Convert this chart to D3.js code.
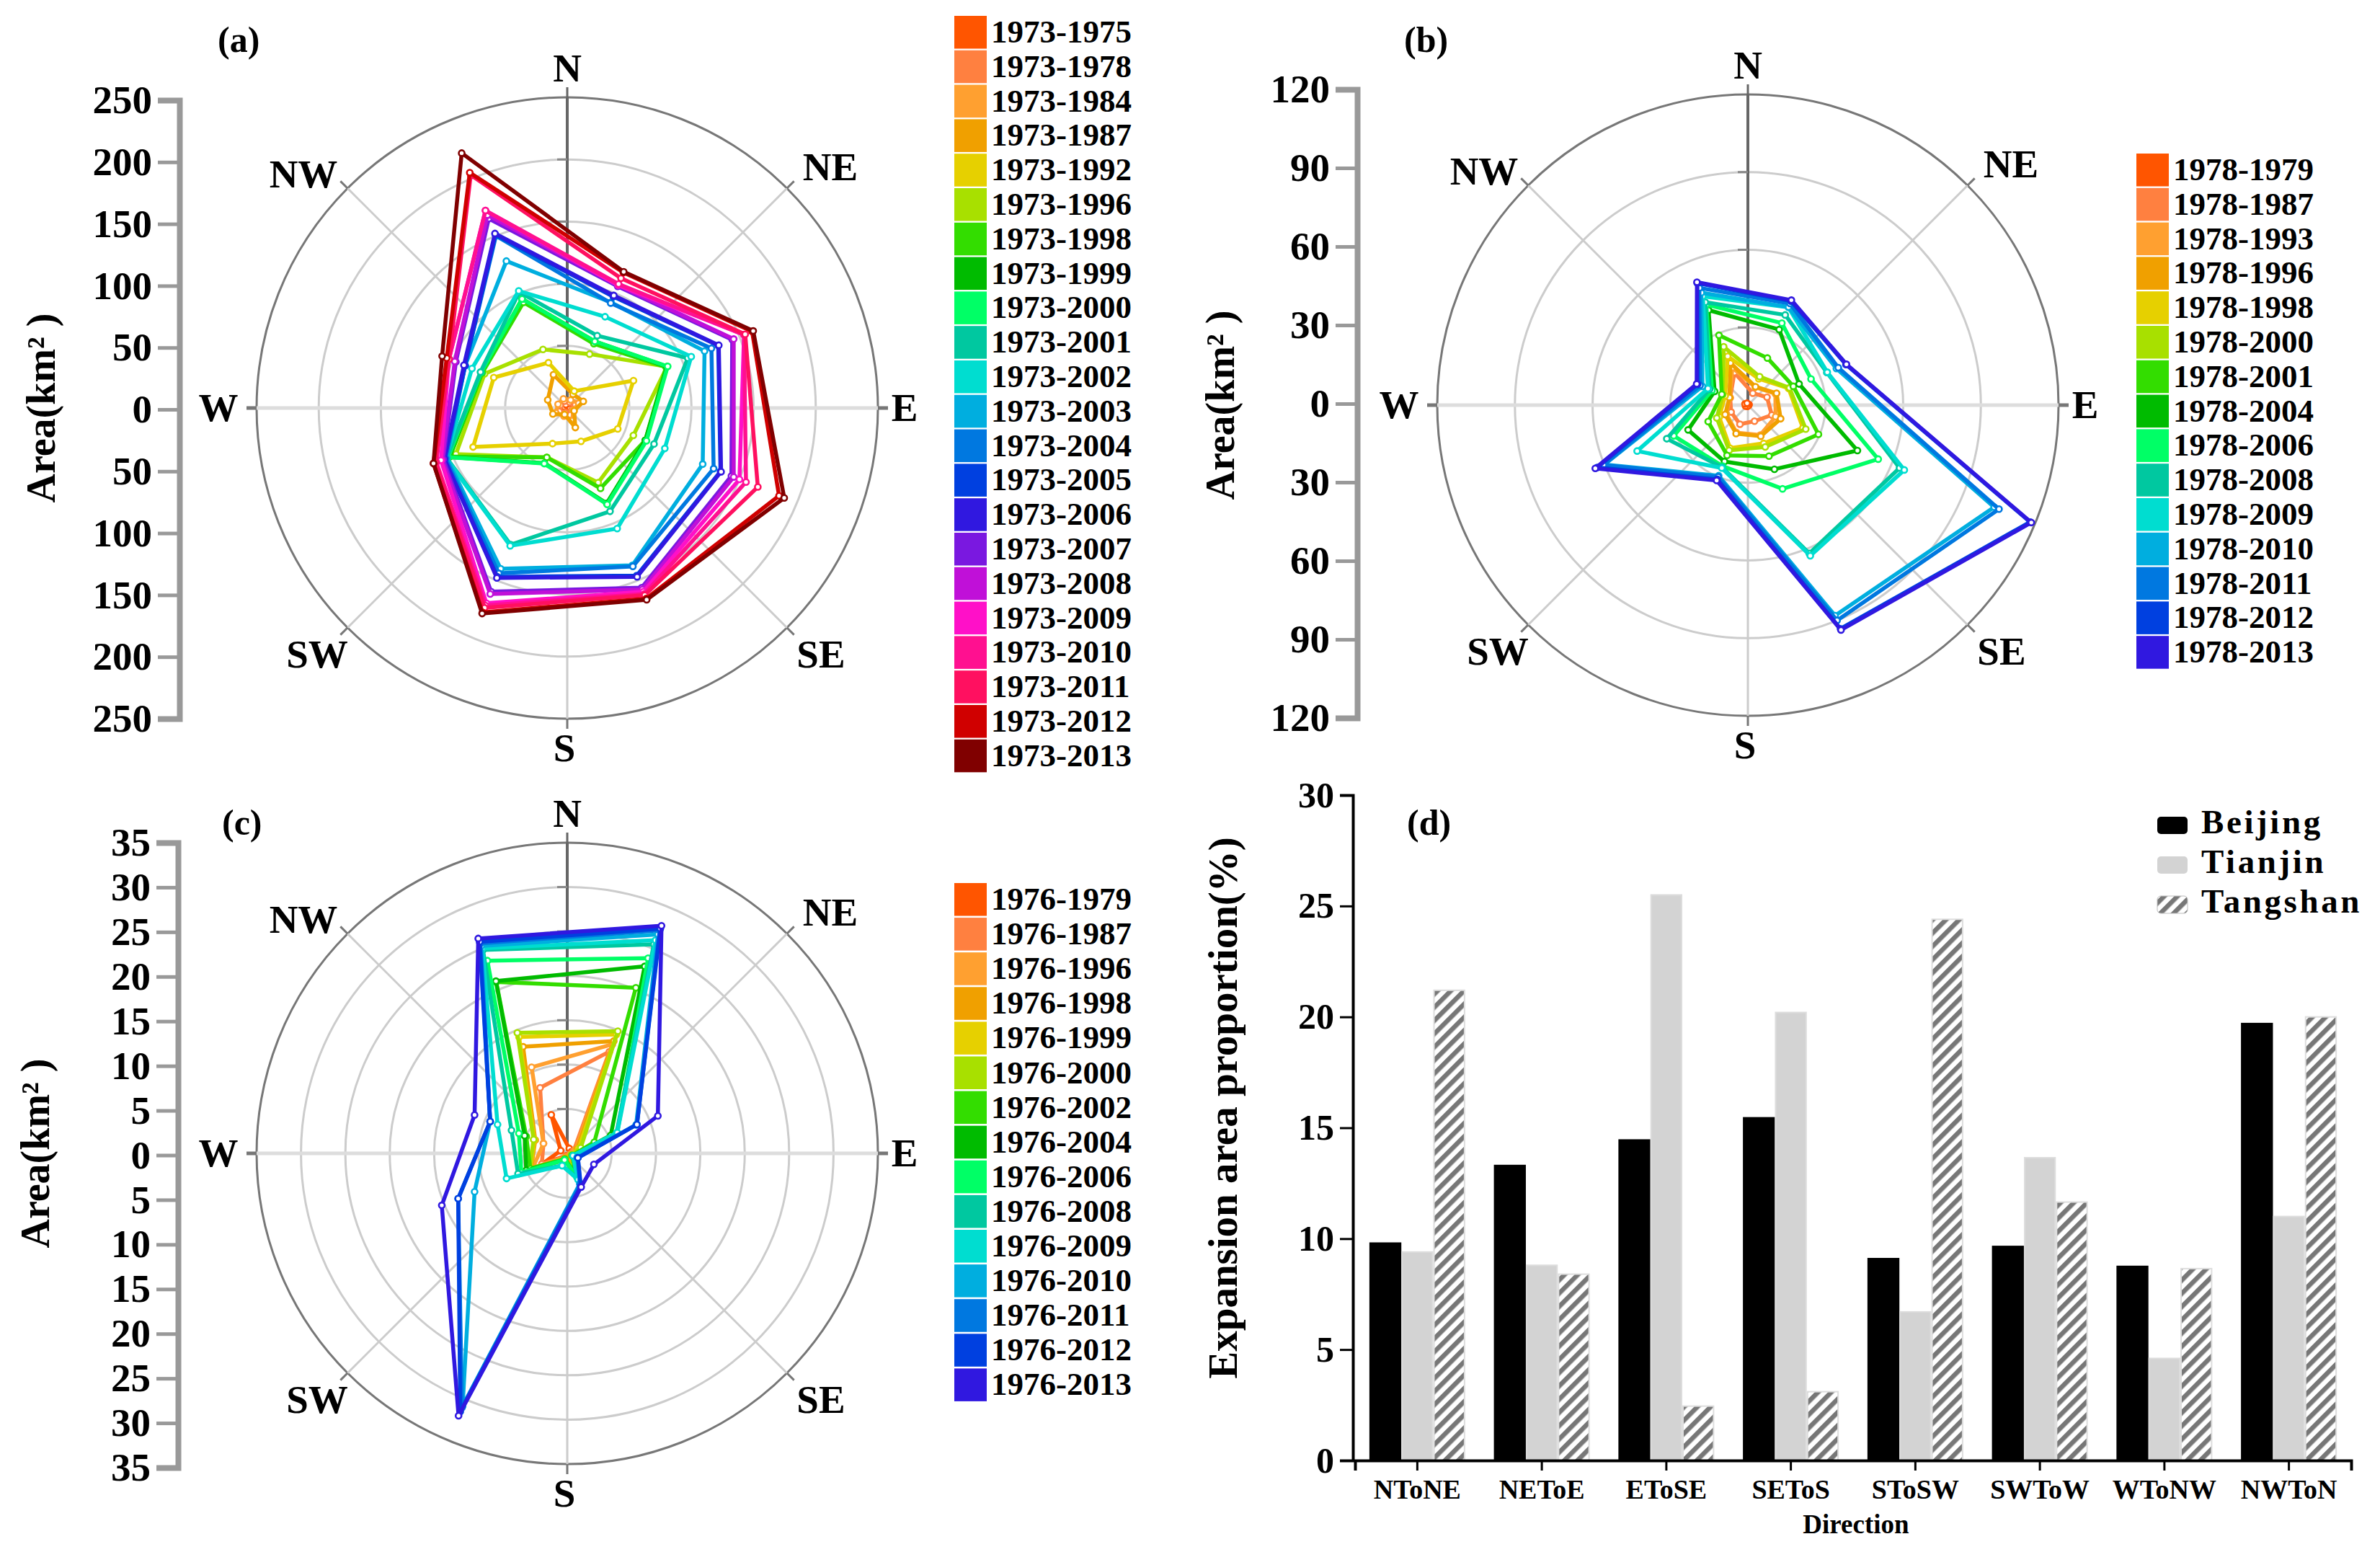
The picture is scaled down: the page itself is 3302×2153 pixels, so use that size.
<!DOCTYPE html>
<html>
<head>
<meta charset="utf-8">
<script src="https://cdn.jsdelivr.net/npm/d3@7"></script>
<style>
  body { margin: 0; background: #fff; }
  text { font-family: "Liberation Serif", serif; font-weight: bold; fill: #000; }
</style>
</head>
<body>
<svg id="chart" width="3302" height="2153"></svg>
<script>
// vertices sit midway between compass spokes: NtoNE, NEtoE ... NWtoN
const compass = ['N', 'NE', 'E', 'SE', 'S', 'SW', 'W', 'NW']

const periodsA = ['1973-1975', '1973-1978', '1973-1984', '1973-1987', '1973-1992', '1973-1996', '1973-1998', '1973-1999', '1973-2000', '1973-2001', '1973-2002', '1973-2003', '1973-2004', '1973-2005', '1973-2006', '1973-2007', '1973-2008', '1973-2009', '1973-2010', '1973-2011', '1973-2012', '1973-2013']
const valuesA = [
  [2, 3, 2, 4, 3, 5, 3, 3],
  [5, 7, 4, 6, 4, 7, 6, 6],
  [7, 10, 5, 11, 7, 10, 8, 8],
  [12, 14, 6, 17, 5.6, 12.5, 17, 29],
  [14.7, 57.7, 44, 29, 31, 82, 64, 39.5],
  [47, 87, 57.6, 65, 43, 97, 72, 51],
  [56, 86, 68, 70, 43, 102, 74, 92],
  [58, 87, 68, 83, 48, 103, 75, 95],
  [58, 87.5, 69, 84, 48.4, 103.6, 75, 95],
  [63, 105, 75.6, 90, 119, 105, 75.6, 101],
  [79.5, 108, 85, 105, 120, 105.6, 83, 102],
  [92, 119.6, 118, 137, 140, 105, 89, 128],
  [91.4, 125.6, 127.5, 138, 144, 106, 89, 150],
  [97, 131.5, 133.5, 146, 147, 107, 89, 151],
  [98, 132, 134, 147, 148, 107, 90, 152],
  [106, 143.7, 143, 156.5, 160, 108, 97, 165],
  [107, 145, 145, 158, 162, 109, 98, 168],
  [107, 154, 150, 160, 170, 110, 103, 172],
  [108, 154, 155.7, 162, 172, 114, 103, 172],
  [113, 155, 166, 163, 174, 115, 103, 203],
  [118, 161, 184.5, 166, 178, 116.5, 105, 205],
  [118.7, 162, 189, 167, 179, 116.5, 109, 222]
]
const ticksA = [250, 200, 150, 100, 50, 0, -50, -100, -150, -200, -250]
const ringsA = [50, 100, 150, 200, 250]

const periodsB = ['1978-1979', '1978-1987', '1978-1993', '1978-1996', '1978-1998', '1978-2000', '1978-2001', '1978-2004', '1978-2006', '1978-2008', '1978-2009', '1978-2010', '1978-2011', '1978-2012', '1978-2013']
const valuesB = [
  [0.3, 0.5, 0.3, 0.2, 0.5, 1, 1.2, 0.8],
  [5, 8, 10, 6.7, 8, 7, 7.4, 13.6],
  [7.5, 11.5, 11.6, 12.5, 11.5, 9, 7.5, 15.7],
  [7.7, 12, 13.7, 13, 11.9, 9.5, 7.7, 17.6],
  [11, 17, 23, 16, 18, 12, 9.5, 20.4],
  [11.9, 17.4, 24.2, 17.5, 18.9, 13, 10.5, 24.4],
  [19.7, 19, 29.5, 21.3, 21, 16.6, 10.9, 29.2],
  [31.6, 21.4, 45.8, 26.8, 23.6, 25, 13.9, 39.7],
  [34.3, 26.4, 54.5, 35, 25.5, 31, 15, 42],
  [37.7, 33, 63.4, 62, 26, 33.9, 16, 43],
  [40.9, 33.2, 65.4, 63, 26.3, 46.3, 16.7, 45.5],
  [41, 37, 103, 88, 29.5, 60, 19, 47],
  [42.5, 37.8, 105, 90, 30, 60.4, 20, 49],
  [43.5, 41, 118, 93.5, 31, 63, 21, 51],
  [43.9, 41.2, 118.5, 94, 31.5, 63.8, 21.4, 51.4]
]
const ticksB = [120, 90, 60, 30, 0, -30, -60, -90, -120]
const ringsB = [30, 60, 90, 120]

const periodsC = ['1976-1979', '1976-1987', '1976-1996', '1976-1998', '1976-1999', '1976-2000', '1976-2002', '1976-2004', '1976-2006', '1976-2008', '1976-2009', '1976-2010', '1976-2011', '1976-2012', '1976-2013']
const valuesC = [
  [0.6, 0.5, 0.4, 1.2, 0.3, 3, 0.8, 4.7],
  [12.4, 0.8, 0.3, 1.4, 0.4, 3.1, 2.9, 8],
  [13.3, 1, 0.4, 1.8, 0.5, 4.2, 2.9, 10.5],
  [13.7, 1.2, 0.5, 2, 0.6, 4.4, 3.9, 13],
  [14.5, 1.4, 0.5, 2.2, 0.7, 4.5, 4, 14.2],
  [14.9, 1.65, 0.5, 2.3, 0.7, 4.6, 4.1, 14.7],
  [20.2, 3.3, 0.6, 2.6, 0.7, 4.5, 5, 20.9],
  [22.8, 5.3, 0.7, 2.8, 0.8, 5, 5.2, 21],
  [23.8, 6.1, 0.7, 2.9, 0.8, 5.6, 5.9, 23.5],
  [25.5, 6, 0.7, 3, 1.5, 6, 6.8, 24.8],
  [26, 6.1, 0.7, 3.2, 1.5, 7.4, 8.5, 25],
  [26.7, 8.4, 1.2, 3.7, 30.8, 11.3, 9.4, 25.3],
  [27.2, 8.5, 1.3, 3.8, 31, 13.3, 9.4, 25.6],
  [27.4, 8.5, 1.3, 4, 31.5, 13.3, 9.4, 25.8],
  [27.75, 11.05, 3.25, 4.1, 32, 15.3, 11.3, 26.2]
]
const ticksC = [35, 30, 25, 20, 15, 10, 5, 0, -5, -10, -15, -20, -25, -30, -35]
const ringsC = [5, 10, 15, 20, 25, 30, 35]

const periodColors = ['#ff5500', '#ff8040', '#ffa030', '#f0a000', '#e6d000', '#a8e000', '#33dd00', '#00bb00', '#00ff66', '#00c8a0', '#00ddd0', '#00aedf', '#0078e0', '#0040e0', '#3018e0', '#7a18e0', '#c010d8', '#ff10c8', '#ff1090', '#ff1060', '#d00000', '#800000']

const directions = ['NToNE', 'NEToE', 'EToSE', 'SEToS', 'SToSW', 'SWToW', 'WToNW', 'NWToN']
const cities = ['Beijing', 'Tianjin', 'Tangshan']
const beijing = [9.8, 13.3, 14.45, 15.45, 9.1, 9.65, 8.75, 19.7]
const tianjin = [9.4, 8.8, 25.5, 20.2, 6.7, 13.65, 4.6, 11.0]
const tangshan = [21.2, 8.4, 2.45, 3.1, 24.4, 11.65, 8.65, 20]
const ticksD = [0, 5, 10, 15, 20, 25, 30]

const svg = d3.select('#chart')
const radius = 431
const lineGrey = '#999'

// hatch for Tangshan
svg.append('defs').append('pattern')
    .attr('id', 'hatch')
    .attr('width', 13).attr('height', 13)
    .attr('patternUnits', 'userSpaceOnUse')
    .attr('patternTransform', 'rotate(45)')
    .append('rect')
    .attr('width', 6.5).attr('height', 13)
    .attr('fill', '#777')

// label offsets from the polar centre, same order as compass
const compassOffsets = [[0, -471], [365, -334], [468, 0], [352, 342], [-4, 472], [-347, 342], [-484, 0], [-366, -324]]

function drawPolar(opt) {
    const maxVal = opt.rings[opt.rings.length - 1]
    const r = d3.scaleLinear().domain([0, maxVal]).range([0, radius])
    const g = svg.append('g').attr('transform', 'translate(' + opt.cx + ',' + opt.cy + ')')

    // rings
    g.selectAll('.ring')
        .data(opt.rings)
        .enter().append('circle')
        .attr('r', d => r(d))
        .attr('fill', 'none')
        .attr('stroke', d => d === maxVal ? '#777' : '#ccc')
        .attr('stroke-width', 3)

    // spokes, the north half stays darker and the E-W one is thick
    compass.forEach((name, i) => {
        const a = i * Math.PI / 4
        const sx = Math.sin(a), sy = -Math.cos(a)
        g.append('line')
            .attr('x2', sx * radius).attr('y2', sy * radius)
            .attr('stroke', i === 0 ? '#666' : (i % 4 === 2 ? '#ddd' : '#ccc'))
            .attr('stroke-width', i % 4 === 2 ? 5 : (i === 0 ? 4 : 3))
        g.append('line')
            .attr('x1', sx * radius).attr('y1', sy * radius)
            .attr('x2', sx * (radius + 14)).attr('y2', sy * (radius + 14))
            .attr('stroke', i === 0 ? '#666' : '#777')
            .attr('stroke-width', i % 4 === 2 ? 5 : 3)
    })

    // small ticks on the north spoke
    g.selectAll('.ntick')
        .data(opt.rings.slice(0, -1))
        .enter().append('line')
        .attr('x1', -14).attr('x2', 0)
        .attr('y1', d => -r(d)).attr('y2', d => -r(d))
        .attr('stroke', '#888').attr('stroke-width', 3)

    g.selectAll('.dir')
        .data(compass)
        .enter().append('text')
        .attr('x', (d, i) => compassOffsets[i][0])
        .attr('y', (d, i) => compassOffsets[i][1])
        .attr('dy', '0.33em')
        .attr('text-anchor', 'middle')
        .attr('font-size', 55)
        .text(d => d)

    const line = d3.lineRadial()
        .angle((d, i) => (i + 0.5) * Math.PI / 4)
        .radius(d => r(d))
        .curve(d3.curveLinearClosed)

    const series = g.selectAll('.series')
        .data(opt.values)
        .enter().append('g')
        .attr('class', 'series')

    series.append('path')
        .attr('d', d => line(d))
        .attr('fill', 'none')
        .attr('stroke', (d, i) => periodColors[i])
        .attr('stroke-width', 5.5)
        .attr('stroke-linejoin', 'round')

    series.each(function(row, k) {
        d3.select(this).selectAll('circle')
            .data(row)
            .enter().append('circle')
            .attr('cx', (d, i) => r(d) * Math.sin((i + 0.5) * Math.PI / 4))
            .attr('cy', (d, i) => -r(d) * Math.cos((i + 0.5) * Math.PI / 4))
            .attr('r', 4)
            .attr('fill', '#fff')
            .attr('stroke', periodColors[k])
            .attr('stroke-width', 2.6)
    })

    // value axis, mirrored around zero
    const y = d3.scaleLinear().domain([maxVal, -maxVal]).range(opt.axisRange)
    const axis = d3.axisLeft(y)
        .tickValues(opt.ticks)
        .tickFormat(d => Math.abs(d))
        .tickSize(30)
        .tickPadding(8)
    const ax = svg.append('g')
        .attr('transform', 'translate(' + opt.axisX + ',0)')
        .call(axis)
    ax.select('.domain').attr('stroke', lineGrey).attr('stroke-width', 8)
    ax.selectAll('.tick line').attr('stroke', lineGrey).attr('stroke-width', 5)
    ax.selectAll('.tick text').attr('font-size', 55)
        .style('font-family', '"Liberation Serif", serif').style('font-weight', 'bold')

    svg.append('text')
        .attr('transform', 'translate(' + opt.titleX + ',' + opt.cy + ') rotate(-90)')
        .attr('text-anchor', 'middle')
        .attr('font-size', 56)
        .text('Area(km² )')

    svg.append('text')
        .attr('x', opt.tagX).attr('y', opt.tagY)
        .attr('font-size', 50)
        .text(opt.tag)

    // period legend
    const rowY = d3.scaleBand()
        .domain(opt.periods)
        .range([opt.legendTop, opt.legendTop + opt.legendStep * opt.periods.length])
    const row = svg.append('g').selectAll('g')
        .data(opt.periods)
        .enter().append('g')
        .attr('transform', d => 'translate(' + opt.legendX + ',' + rowY(d) + ')')
    row.append('rect')
        .attr('width', 45).attr('height', 45.5)
        .attr('fill', (d, i) => periodColors[i])
    row.append('text')
        .attr('x', 51).attr('y', 37)
        .attr('font-size', 45)
        .text(d => d)
}

drawPolar({ cx: 787, cy: 566, rings: ringsA, values: valuesA, ticks: ticksA, periods: periodsA,
    axisX: 249, axisRange: [139, 997], titleX: 76, tag: '(a)', tagX: 302, tagY: 72, legendX: 1324, legendTop: 22, legendStep: 47.8 })
drawPolar({ cx: 2425, cy: 562, rings: ringsB, values: valuesB, ticks: ticksB, periods: periodsB,
    axisX: 1883, axisRange: [124, 996], titleX: 1712, tag: '(b)', tagX: 1948, tagY: 72, legendX: 2964, legendTop: 213, legendStep: 47.8 })
drawPolar({ cx: 787, cy: 1600, rings: ringsC, values: valuesC, ticks: ticksC, periods: periodsC,
    axisX: 247, axisRange: [1169, 2036], titleX: 68, tag: '(c)', tagX: 308, tagY: 1158, legendX: 1324, legendTop: 1225, legendStep: 48.1 })

// panel d
const x0 = d3.scaleBand().domain(directions).range([1880, 3262]).paddingInner(0.23).paddingOuter(0.115)
const x1 = d3.scaleBand().domain(cities).range([0, x0.bandwidth()])
const yD = d3.scaleLinear().domain([0, 30]).range([2026, 1103])

const barData = [beijing, tianjin, tangshan]
const barFill = ['#000', '#d3d3d3', 'url(#hatch)']
const barStroke = ['#000', '#ddd', '#ddd']

barData.forEach((vals, k) => {
    svg.append('g').selectAll('rect')
        .data(vals)
        .enter().append('rect')
        .attr('x', (d, i) => x0(directions[i]) + x1(cities[k]) + 1)
        .attr('y', d => yD(d))
        .attr('width', x1.bandwidth() - 2)
        .attr('height', d => yD(0) - yD(d))
        .attr('fill', barFill[k])
        .attr('stroke', barStroke[k])
        .attr('stroke-width', 2)
})

const axisDx = svg.append('g')
    .attr('transform', 'translate(0,2026)')
    .call(d3.axisBottom(x0).tickSize(14).tickPadding(12))
axisDx.select('.domain').attr('stroke', '#000').attr('stroke-width', 4)
axisDx.selectAll('.tick line').attr('stroke', '#000').attr('stroke-width', 3)
axisDx.selectAll('.tick text').attr('font-size', 38)
    .style('font-family', '"Liberation Serif", serif').style('font-weight', 'bold')

const axisDy = svg.append('g')
    .attr('transform', 'translate(1877,0)')
    .call(d3.axisLeft(yD).tickValues(ticksD).tickSize(18).tickPadding(8))
axisDy.select('.domain').attr('stroke', '#000').attr('stroke-width', 4)
axisDy.selectAll('.tick line').attr('stroke', '#000').attr('stroke-width', 3)
axisDy.selectAll('.tick text').attr('font-size', 50)
    .style('font-family', '"Liberation Serif", serif').style('font-weight', 'bold')

svg.append('text')
    .attr('x', 2575).attr('y', 2127)
    .attr('text-anchor', 'middle')
    .attr('font-size', 37)
    .text('Direction')

svg.append('text')
    .attr('transform', 'translate(1716,1537) rotate(-90)')
    .attr('text-anchor', 'middle')
    .attr('font-size', 57)
    .text('Expansion area proportion(%)')

svg.append('text').attr('x', 1952).attr('y', 1158).attr('font-size', 50).text('(d)')

const legendD = d3.scaleBand().domain(cities).range([1120, 1285])
const legRow = svg.append('g').selectAll('g')
    .data(cities)
    .enter().append('g')
    .attr('transform', d => 'translate(2993,' + legendD(d) + ')')
legRow.append('rect')
    .attr('y', 13).attr('width', 42).attr('height', 24).attr('rx', 5)
    .attr('fill', (d, i) => barFill[i])
    .attr('stroke', (d, i) => i === 2 ? '#bbb' : 'none')
legRow.append('text')
    .attr('x', 61).attr('y', 36)
    .attr('font-size', 47)
    .attr('letter-spacing', 3.6)
    .text(d => d)
</script>
</body>
</html>
